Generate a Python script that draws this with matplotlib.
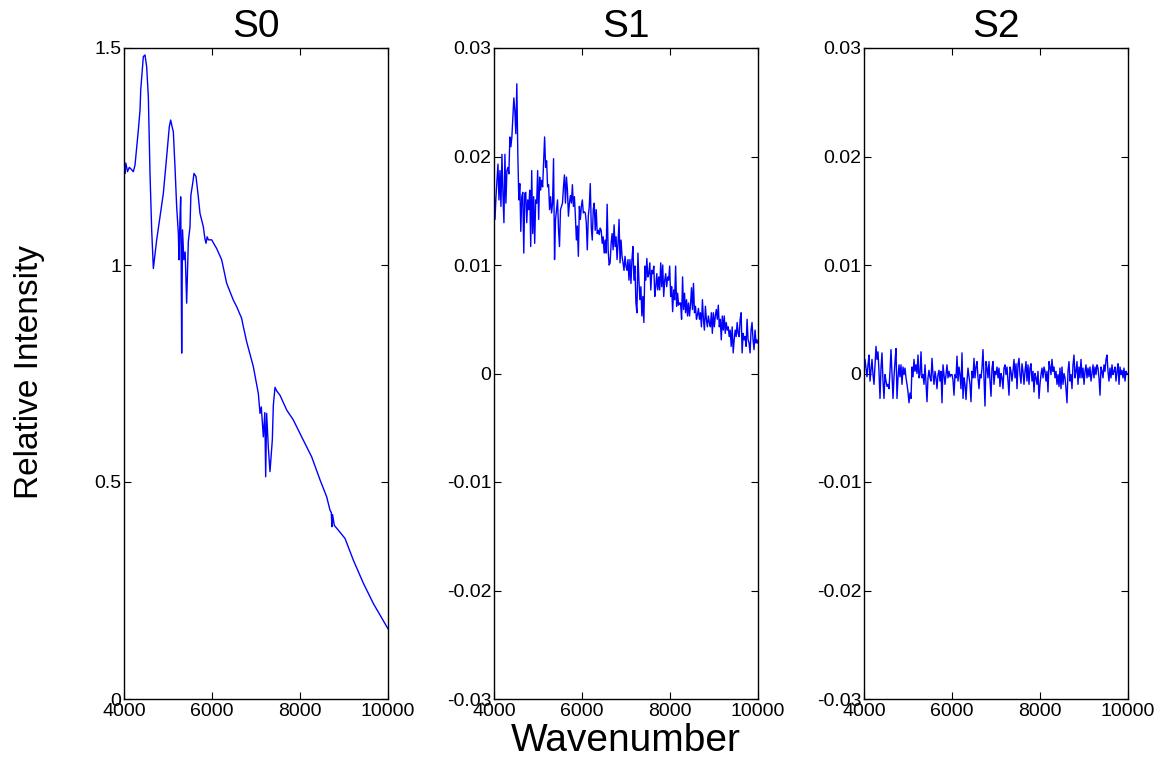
import numpy as np
import matplotlib
matplotlib.use("Agg")
import matplotlib.pyplot as plt

plt.rcParams['font.family'] = ['Liberation Sans', 'DejaVu Sans']

# S0 spectrum (wavenumber, relative intensity)
s0_x = [4000, 4023, 4040, 4080, 4120, 4170, 4212, 4250, 4326, 4364, 4380, 4439,
        4477, 4515, 4553, 4591, 4629, 4667, 4743, 4818, 4894, 4970, 5030, 5061,
        5090, 5121, 5159, 5197, 5235, 5250, 5270, 5288, 5300, 5311, 5330, 5360,
        5390, 5424, 5462, 5500, 5520, 5561, 5591, 5636, 5689, 5727, 5803, 5840,
        5864, 5890, 5917, 5992, 6106, 6220, 6333, 6485, 6561, 6674, 6712, 6788,
        6939, 7053, 7091, 7120, 7167, 7200, 7220, 7242, 7280, 7318, 7371, 7394,
        7432, 7470, 7545, 7697, 7848, 8038, 8265, 8455, 8606, 8682, 8710, 8727,
        8740, 8780, 8871, 9023, 9212, 9439, 9667, 9970, 10000]
s0_y = [1.22, 1.211, 1.235, 1.215, 1.225, 1.22, 1.215, 1.23, 1.311, 1.357, 1.403, 1.480,
        1.484, 1.457, 1.388, 1.211, 1.081, 0.992, 1.058, 1.111, 1.165, 1.250, 1.319, 1.334,
        1.32, 1.307, 1.226, 1.134, 1.073, 1.012, 1.10, 1.157, 1.0, 0.797, 1.081, 1.012,
        1.03, 0.912, 1.054, 1.088, 1.161, 1.188, 1.211, 1.204, 1.157, 1.119, 1.088, 1.06,
        1.050, 1.065, 1.058, 1.058, 1.038, 1.012, 0.958, 0.919, 0.904, 0.877, 0.858, 0.823,
        0.766, 0.704, 0.658, 0.673, 0.604, 0.66, 0.512, 0.658, 0.58, 0.524, 0.597, 0.677,
        0.718, 0.71, 0.700, 0.666, 0.643, 0.604, 0.558, 0.505, 0.466, 0.435, 0.43, 0.397,
        0.425, 0.40, 0.389, 0.370, 0.320, 0.267, 0.220, 0.167, 0.162]

# S1, evenly sampled from 4000 to 10000
s1_y = [0.0174, 0.0142, 0.0163, 0.0178, 0.0193, 0.0160, 0.0187, 0.0154, 0.0202, 0.0166,
        0.0139, 0.0202, 0.0157, 0.0187, 0.0190, 0.0184, 0.0218, 0.0209, 0.0218, 0.0236,
        0.0254, 0.0242, 0.0221, 0.0267, 0.0202,
        0.0160, 0.0175, 0.0131, 0.0163, 0.0167, 0.0111, 0.0166, 0.0167, 0.0139, 0.0160,
        0.0151, 0.0169, 0.0117, 0.0187, 0.0129, 0.0163, 0.0120, 0.0160, 0.0157, 0.0187,
        0.0142, 0.0181, 0.0169, 0.0178, 0.0172, 0.0196, 0.0218, 0.0190, 0.0196, 0.0172,
        0.0174, 0.0151, 0.0163, 0.0148, 0.0157, 0.0198, 0.0105, 0.0142, 0.0151, 0.0160,
        0.0133, 0.0117, 0.0151, 0.0154, 0.0157, 0.0172, 0.0183, 0.0157, 0.0181, 0.0169,
        0.0145, 0.0157, 0.0164, 0.0157, 0.0174, 0.0154, 0.0163, 0.0145, 0.0123, 0.0136,
        0.0108, 0.0154, 0.0142, 0.0154, 0.0160,
        0.0148, 0.0149, 0.0148, 0.0139, 0.0114, 0.0145, 0.0154, 0.0175, 0.0135, 0.0123,
        0.0151, 0.0157, 0.0132, 0.0151, 0.0129, 0.0132, 0.0128, 0.0134, 0.0132, 0.0120,
        0.0126, 0.0111, 0.0123, 0.0111, 0.0156, 0.0114, 0.0100, 0.0102, 0.0120, 0.0129,
        0.0114, 0.0137, 0.0117, 0.0126, 0.0105, 0.0120, 0.0142, 0.0102, 0.0123, 0.0108,
        0.0102, 0.0095, 0.0108, 0.0099, 0.0095, 0.0105, 0.0086, 0.0105, 0.0083, 0.0105,
        0.0117, 0.0086, 0.0099, 0.0065, 0.0056, 0.0111, 0.0086, 0.0068, 0.0080, 0.0053,
        0.0071, 0.0047, 0.0099, 0.0086, 0.0106, 0.0089, 0.0092, 0.0102, 0.0077, 0.0095,
        0.0092, 0.0099, 0.0071, 0.0080, 0.0092, 0.0077, 0.0089, 0.0077, 0.0102, 0.0080,
        0.0100, 0.0071, 0.0086, 0.0092, 0.0080, 0.0089, 0.0086, 0.0099, 0.0071,
        0.0080, 0.0057, 0.0077, 0.0068, 0.0099, 0.0062, 0.0074, 0.0063, 0.0065, 0.0065,
        0.0050, 0.0089, 0.0059, 0.0074, 0.0056, 0.0068, 0.0053, 0.0065, 0.0053, 0.0063,
        0.0079, 0.0059, 0.0083, 0.0056, 0.0062, 0.0050, 0.0054, 0.0060, 0.0050, 0.0056,
        0.0043, 0.0068, 0.0050, 0.0040, 0.0062, 0.0050, 0.0043, 0.0053, 0.0047, 0.0043,
        0.0056, 0.0037, 0.0056, 0.0043, 0.0053, 0.0059, 0.0050, 0.0063, 0.0043, 0.0050,
        0.0031, 0.0053, 0.0040, 0.0053, 0.0037, 0.0047, 0.0040, 0.0043, 0.0034, 0.0040,
        0.0025, 0.0043, 0.0019, 0.0031, 0.0040, 0.0034, 0.0047, 0.0037, 0.0034, 0.0050,
        0.0056, 0.0019, 0.0037, 0.0031, 0.0034, 0.0025, 0.0050, 0.0031, 0.0028, 0.0019,
        0.0040, 0.0047, 0.0031, 0.0022, 0.0040, 0.0028, 0.0031, 0.0028]

# S2, evenly sampled from 4000 to 10000
s2_y = [0.0002, 0.0013, 0.0005, -0.0003, 0.0008, 0.0017, -0.0007, 0.0003, 0.0013, -0.0001,
        -0.0010, 0.0008, 0.0025, 0.0013, 0.0020, 0.0002, -0.0023, 0.0005, 0.0019, -0.0007,
        -0.0023, -0.0001, -0.0007, -0.0012, -0.0010, -0.0014, 0.0002, 0.0022, -0.0001, -0.0023,
        -0.0003, 0.0011, 0.0023, -0.0023, -0.0004, 0.0008, -0.0003, 0.0008, -0.0010, 0.0006,
        -0.0001, 0.0005, -0.0004, -0.0010, -0.0017, -0.0027, -0.0018, -0.0023, 0.0006, -0.0003,
        0.0013, 0.0002, 0.0008, 0.0000, 0.0017, -0.0004, -0.0001, 0.0020, -0.0004, -0.0001,
        -0.0010, 0.0008, -0.0010, -0.0026, -0.0004, 0.0003, -0.0004, -0.0007, 0.0014, -0.0001,
        -0.0010, 0.0002, -0.0004, -0.0014, -0.0001, 0.0003, -0.0007, 0.0002, -0.0027, 0.0008,
        -0.0001, -0.0010, -0.0001, 0.0008, -0.0004, 0.0002, -0.0003, -0.0001,
        -0.0001, -0.0006, -0.0020, -0.0001, -0.0004, 0.0016, -0.0007, 0.0006, -0.0001, -0.0014,
        0.0019, -0.0023, -0.0004, -0.0010, -0.0024, -0.0007, 0.0005, -0.0003, -0.0010, -0.0026,
        0.0002, -0.0004, 0.0014, -0.0004, 0.0006, 0.0011, -0.0004, -0.0014, -0.0001, -0.0004,
        0.0005, 0.0022, -0.0004, -0.0030, 0.0011, 0.0005, -0.0004, 0.0011, -0.0007, -0.0021,
        0.0005, 0.0011, -0.0010, 0.0002, -0.0001, 0.0006, -0.0004, 0.0005, -0.0012, 0.0000,
        -0.0004, -0.0014, 0.0005, 0.0008, -0.0001, 0.0006, -0.0007, -0.0020, 0.0006, 0.0002,
        -0.0007, 0.0002, 0.0013, -0.0004, 0.0009, -0.0014, 0.0008, 0.0014, -0.0001, -0.0009,
        0.0009, 0.0002, -0.0010, 0.0002, 0.0011, -0.0007, 0.0008, -0.0010, 0.0005, 0.0009,
        -0.0007, 0.0002, -0.0017, 0.0000, -0.0004, -0.0010, 0.0002, -0.0023,
        -0.0010, -0.0001, 0.0005, -0.0004, 0.0006, 0.0002, -0.0007, 0.0002, -0.0017, 0.0011,
        0.0006, -0.0001, 0.0013, 0.0002, 0.0006, -0.0004, 0.0002, -0.0010, -0.0001, -0.0012,
        0.0005, -0.0014, 0.0006, -0.0010, 0.0000, -0.0004, -0.0014, -0.0027, 0.0002, 0.0011,
        -0.0007, -0.0001, -0.0014, 0.0008, 0.0017, -0.0004, 0.0002, 0.0011, -0.0010, 0.0006,
        -0.0004, 0.0013, -0.0004, 0.0005, -0.0010, 0.0002, 0.0008, -0.0004, 0.0005, -0.0003,
        0.0006, -0.0007, 0.0000, 0.0008, -0.0004, 0.0006, -0.0001, 0.0008, 0.0005, -0.0004,
        -0.0020, 0.0006, 0.0002, -0.0004, 0.0008, 0.0002, 0.0013, 0.0017, 0.0002, -0.0007,
        0.0005, -0.0004, 0.0008, -0.0001, 0.0002, 0.0006, -0.0007, 0.0002, 0.0009, -0.0010,
        0.0006, -0.0001, 0.0003, -0.0004, 0.0005, -0.0007, 0.0002, -0.0001, 0.0000]

titles = ["S0", "S1", "S2"]
x_ticks = [4000, 6000, 8000, 10000]
s0_ticks = [0, 0.5, 1, 1.5]
s0_ticklabels = ["0", "0.5", "1", "1.5"]
s_ticks = [-0.03, -0.02, -0.01, 0, 0.01, 0.02, 0.03]
s_ticklabels = ["-0.03", "-0.02", "-0.01", "0", "0.01", "0.02", "0.03"]

s1_x = np.linspace(4000, 10000, len(s1_y))
s2_x = np.linspace(4000, 10000, len(s2_y))

fig = plt.figure(figsize=(11.66, 7.61), dpi=100)
lefts = [124 / 1166, 494 / 1166, 864 / 1166]
w = 264 / 1166
b = 1 - 699 / 761
h = (699 - 48) / 761

series = [(s0_x, s0_y), (s1_x, s1_y), (s2_x, s2_y)]
for i, (xs, ys) in enumerate(series):
    ax = fig.add_axes([lefts[i], b, w, h])
    ax.plot(xs, ys, color=(0, 0, 1), linewidth=1.0)
    ax.set_xlim(4000, 10000)
    ax.set_xticks(x_ticks)
    ax.set_xticklabels([str(t) for t in x_ticks])
    if i == 0:
        ax.set_ylim(0, 1.5)
        ax.set_yticks(s0_ticks)
        ax.set_yticklabels(s0_ticklabels)
    else:
        ax.set_ylim(-0.03, 0.03)
        ax.set_yticks(s_ticks)
        ax.set_yticklabels(s_ticklabels)
    ax.tick_params(direction='in', top=True, right=True, length=5, width=0.8,
                   labelsize=14, pad=2)
    ax.tick_params(axis='x', pad=3)
    for sp in ax.spines.values():
        sp.set_linewidth(1.0)
    ax.set_title(titles[i], fontsize=28, pad=8)

fig.text((494 + 757) / 2 / 1166, 1 - 741 / 761, "Wavenumber", fontsize=28,
         ha='center', va='center')
fig.text(30 / 1166, 1 - 372 / 761, "Relative Intensity", fontsize=24,
         rotation=90, ha='center', va='center')

fig.savefig("out.png", dpi=100)
